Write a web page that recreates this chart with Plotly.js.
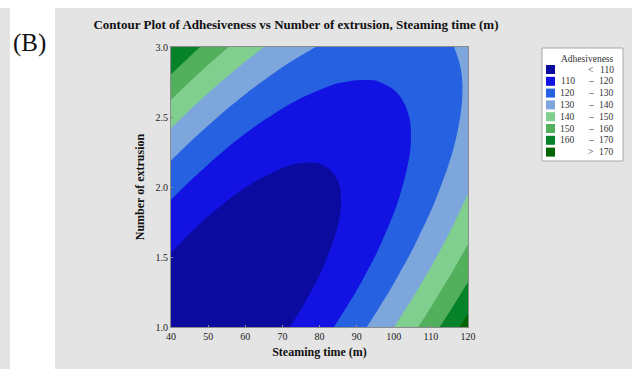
<!DOCTYPE html>
<html><head><meta charset="utf-8">
<script src="https://cdn.plot.ly/plotly-3.0.1.min.js"></script>
<style>html,body{margin:0;padding:0;background:#fff;}#chart{width:632px;height:369px;}</style>
</head><body><div id="chart"></div>
<script>
// ---- data ----
const steamingTime = [40, 45, 50, 55, 60, 65, 70, 75, 80, 85, 90, 95, 100, 105, 110, 115, 120];
const extrusionNumber = [1.0, 1.125, 1.25, 1.375, 1.5, 1.625, 1.75, 1.875, 2.0, 2.125, 2.25, 2.375, 2.5, 2.625, 2.75, 2.875, 3.0];
const adhesiveness = [
  [102.9, 102.1, 102.0, 102.7, 104.0, 106.0, 108.7, 112.1, 116.2, 121.1, 126.6, 132.8, 139.8, 147.4, 155.7, 164.8, 174.5],
  [103.9, 102.6, 102.1, 102.3, 103.2, 104.7, 107.0, 110.0, 113.7, 118.1, 123.2, 129.0, 135.5, 142.7, 150.6, 159.2, 168.5],
  [105.2, 103.6, 102.6, 102.3, 102.8, 103.9, 105.8, 108.3, 111.6, 115.5, 120.2, 125.6, 131.6, 138.4, 145.9, 154.1, 162.9],
  [107.1, 105.0, 103.6, 102.9, 102.9, 103.6, 105.0, 107.1, 109.9, 113.5, 117.7, 122.6, 128.3, 134.6, 141.6, 149.4, 157.8],
  [109.3, 106.8, 105.0, 103.8, 103.4, 103.7, 104.7, 106.4, 108.7, 111.8, 115.6, 120.1, 125.3, 131.2, 137.8, 145.1, 153.1],
  [112.1, 109.1, 106.8, 105.3, 104.4, 104.2, 104.8, 106.0, 108.0, 110.6, 114.0, 118.1, 122.8, 128.3, 134.5, 141.3, 148.9],
  [115.2, 111.8, 109.1, 107.1, 105.8, 105.2, 105.4, 106.2, 107.7, 109.9, 112.8, 116.5, 120.8, 125.8, 131.6, 138.0, 145.1],
  [118.9, 115.0, 111.9, 109.5, 107.7, 106.7, 106.4, 106.8, 107.8, 109.6, 112.1, 115.3, 119.2, 123.8, 129.1, 135.1, 141.8],
  [122.9, 118.7, 115.1, 112.2, 110.1, 108.6, 107.8, 107.8, 108.4, 109.8, 111.8, 114.6, 118.1, 122.2, 127.1, 132.7, 138.9],
  [127.5, 122.8, 118.8, 115.5, 112.9, 111.0, 109.8, 109.3, 109.5, 110.4, 112.0, 114.4, 117.4, 121.1, 125.5, 130.7, 136.5],
  [132.4, 127.3, 122.9, 119.1, 116.1, 113.8, 112.1, 111.2, 111.0, 111.5, 112.7, 114.5, 117.1, 120.4, 124.4, 129.1, 134.5],
  [137.9, 132.3, 127.4, 123.2, 119.8, 117.0, 115.0, 113.6, 112.9, 113.0, 113.7, 115.2, 117.4, 120.2, 123.8, 128.0, 133.0],
  [143.7, 137.7, 132.4, 127.8, 123.9, 120.7, 118.2, 116.4, 115.3, 115.0, 115.3, 116.3, 118.0, 120.4, 123.6, 127.4, 131.9],
  [150.1, 143.6, 137.9, 132.8, 128.5, 124.9, 121.9, 119.7, 118.2, 117.4, 117.3, 117.8, 119.1, 121.1, 123.8, 127.2, 131.3],
  [156.8, 149.96, 143.8, 138.3, 133.5, 129.5, 126.1, 123.4, 121.5, 120.2, 119.7, 119.8, 120.7, 122.2, 124.5, 127.5, 131.1],
  [164.1, 156.8, 150.1, 144.2, 139.0, 134.5, 130.7, 127.6, 125.2, 123.6, 122.6, 122.3, 122.7, 123.8, 125.7, 128.2, 131.4],
  [169.5, 164.0, 156.9, 150.6, 145.0, 140.03, 135.8, 132.3, 129.4, 127.3, 125.9, 125.2, 125.2, 125.9, 127.2, 129.3, 132.1]
];
const levels = [110, 120, 130, 140, 150, 160, 170];
const xTicks = [40, 50, 60, 70, 80, 90, 100, 110, 120];
const yTicks = [1.0, 1.5, 2.0, 2.5, 3.0];
const legendTitle = 'Adhesiveness';

// ---- style ----
const bandColors = ['#0c0b9f', '#1212e2', '#2561e0', '#7ca6dc', '#80cf8f', '#52b05c', '#06822a', '#006400'];
const SERIF = 'Liberation Serif, Times New Roman, serif';
const W = 632, H = 369, L = 171, R = 164, T = 47, B = 42;
const pw = W - L - R, ph = H - T - B;
const fx = p => (p - L) / pw;
const fy = p => (H - B - p) / ph;

const n = bandColors.length;
const colorscale = bandColors.map((c, i) => [i / (n - 1), c]);

const trace = {
  type: 'contour',
  x: steamingTime, y: extrusionNumber, z: adhesiveness,
  colorscale: colorscale, showscale: false,
  autocontour: false,
  contours: {start: levels[0], end: levels[levels.length - 1], size: levels[1] - levels[0], coloring: 'fill', showlines: false},
  line: {width: 0, smoothing: 1},
  hoverinfo: 'skip'
};

const shapes = [
  {type: 'rect', xref: 'paper', yref: 'paper', x0: fx(0), x1: fx(W), y0: fy(0), y1: fy(8), fillcolor: '#ffffff', line: {width: 0}, layer: 'below'},
  {type: 'rect', xref: 'paper', yref: 'paper', x0: fx(10), x1: fx(55), y0: fy(8), y1: fy(H), fillcolor: '#ffffff', line: {width: 0}, layer: 'below'},
  {type: 'rect', xref: 'paper', yref: 'paper', x0: fx(542), x1: fx(623), y0: fy(48), y1: fy(161), fillcolor: '#ffffff', line: {width: 1, color: '#a8a8a8'}, layer: 'above'}
];
const annotations = [
  {text: '(B)', xref: 'paper', yref: 'paper', x: fx(29), y: fy(43), xanchor: 'center', yanchor: 'middle', showarrow: false, font: {family: SERIF, size: 25, color: '#111'}},
  {text: legendTitle, xref: 'paper', yref: 'paper', x: fx(615.5), y: fy(59), xanchor: 'right', yanchor: 'middle', showarrow: false, font: {family: SERIF, size: 9.5, color: '#333'}}
];
const legFont = {family: SERIF, size: 9.5, color: '#333'};
for (let i = 0; i < n; i++) {
  const cy = 69.5 + i * 11.8;
  shapes.push({type: 'rect', xref: 'paper', yref: 'paper', x0: fx(546), x1: fx(555), y0: fy(cy + 4.5), y1: fy(cy - 4.5), fillcolor: bandColors[i], line: {width: 0}, layer: 'above'});
  let left = '', mid = '', right = '';
  if (i === 0) { mid = '<'; right = String(levels[0]); }
  else if (i === n - 1) { mid = '>'; right = String(levels[levels.length - 1]); }
  else { left = String(levels[i - 1]); mid = '\u2013'; right = String(levels[i]); }
  if (left) annotations.push({text: left, xref: 'paper', yref: 'paper', x: fx(577), y: fy(cy), xanchor: 'right', yanchor: 'middle', showarrow: false, font: legFont});
  annotations.push({text: mid, xref: 'paper', yref: 'paper', x: fx(590.5), y: fy(cy), xanchor: 'center', yanchor: 'middle', showarrow: false, font: legFont});
  annotations.push({text: right, xref: 'paper', yref: 'paper', x: fx(615.5), y: fy(cy), xanchor: 'right', yanchor: 'middle', showarrow: false, font: legFont});
}

const axisCommon = {
  showgrid: false, zeroline: false, showline: true, mirror: true, linecolor: '#8c8c8c', linewidth: 1,
  ticks: 'inside', ticklen: 2, tickcolor: '#8c8c8c',
  tickfont: {family: SERIF, size: 10, color: '#222'}, fixedrange: true
};
const layout = {
  width: W, height: H,
  margin: {l: L, r: R, t: T, b: B, pad: 0},
  paper_bgcolor: '#e4e4e4', plot_bgcolor: 'rgba(0,0,0,0)',
  showlegend: false,
  title: {text: '<b>Contour Plot of Adhesiveness vs Number of extrusion, Steaming time (m)</b>',
    font: {family: SERIF, size: 13, color: '#111'}, xref: 'container', yref: 'container',
    x: 296 / W, xanchor: 'center', y: 1 - 24 / H, yanchor: 'middle'},
  xaxis: Object.assign({}, axisCommon, {range: [40, 120], tickvals: xTicks, ticktext: xTicks.map(String),
    title: {text: '<b>Steaming time (m)</b>', font: {family: SERIF, size: 12, color: '#111'}, standoff: 6}}),
  yaxis: Object.assign({}, axisCommon, {range: [1, 3], tickvals: yTicks, ticktext: yTicks.map(v => v.toFixed(1)),
    title: {text: '<b>Number of extrusion</b>', font: {family: SERIF, size: 12, color: '#111'}, standoff: 8}}),
  shapes: shapes, annotations: annotations
};
Plotly.newPlot('chart', [trace], layout, {displayModeBar: false, staticPlot: true});
</script></body></html>
